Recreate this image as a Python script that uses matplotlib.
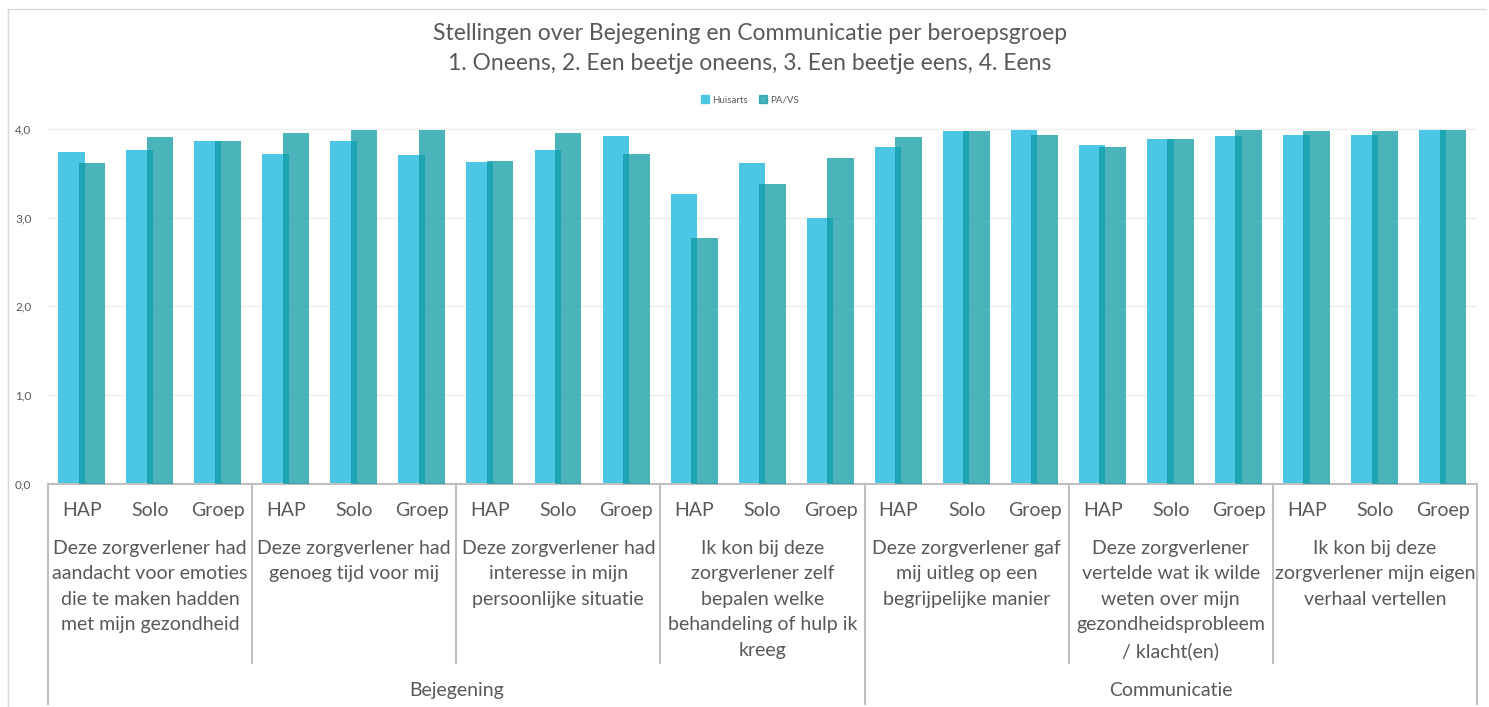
import numpy as np
import matplotlib.pyplot as plt
import matplotlib.transforms as mtransforms
from matplotlib.patches import Rectangle
from matplotlib.lines import Line2D

plt.rcParams['font.family'] = ['Lato', 'DejaVu Sans']

# data
sub_labels = ['HAP', 'Solo', 'Groep'] * 7
stellingen = [
    'Deze zorgverlener had\naandacht voor emoties\ndie te maken hadden\nmet mijn gezondheid',
    'Deze zorgverlener had\ngenoeg tijd voor mij',
    'Deze zorgverlener had\ninteresse in mijn\npersoonlijke situatie',
    'Ik kon bij deze\nzorgverlener zelf\nbepalen welke\nbehandeling of hulp ik\nkreeg',
    'Deze zorgverlener gaf\nmij uitleg op een\nbegrijpelijke manier',
    'Deze zorgverlener\nvertelde wat ik wilde\nweten over mijn\ngezondheidsprobleem\n/ klacht(en)',
    'Ik kon bij deze\nzorgverlener mijn eigen\nverhaal vertellen',
]
themas = ['Bejegening', 'Communicatie']
thema_size = [4, 3]  # number of stellingen per thema

huisarts = [3.74, 3.76, 3.86, 3.72, 3.86, 3.71, 3.63, 3.76, 3.92,
            3.27, 3.61, 3.00, 3.79, 3.97, 3.99, 3.82, 3.89, 3.92,
            3.93, 3.93, 3.99]
pavs = [3.61, 3.91, 3.86, 3.95, 3.99, 3.99, 3.64, 3.95, 3.72,
        2.77, 3.38, 3.67, 3.91, 3.97, 3.93, 3.80, 3.89, 3.99,
        3.97, 3.98, 3.99]

grey = '#595959'
c_hu = '#4CC6E5'
c_pa = '#0F9AA3'

fig = plt.figure(figsize=(14.89, 7.07), dpi=100)
ax = fig.add_axes([48 / 1489, 1 - 484 / 707, 1429 / 1489, 373 / 707])

x = np.arange(len(huisarts))
ax.bar(x - 0.155, huisarts, width=0.39, color=c_hu, zorder=2)
ax.bar(x + 0.145, pavs, width=0.39, color=c_pa, alpha=0.75, zorder=3)

ax.set_xlim(-0.5, len(x) - 0.5)
ax.set_ylim(0, 4.2)
ax.set_yticks([0, 1, 2, 3, 4])
ax.set_yticklabels(['0,0', '1,0', '2,0', '3,0', '4,0'], color=grey, fontsize=8.5)
ax.tick_params(axis='y', length=0, pad=12)
ax.set_xticks([])
for s in ['top', 'right', 'left']:
    ax.spines[s].set_visible(False)
ax.spines['bottom'].set_color('#BFBFBF')
ax.spines['bottom'].set_linewidth(1.5)
ax.grid(axis='y', color='#EEEEEE', linewidth=1, zorder=0)
ax.set_axisbelow(True)

trans = mtransforms.blended_transform_factory(ax.transData, ax.transAxes)

# category labels
for i, lab in enumerate(sub_labels):
    ax.text(i, -0.07, lab, transform=trans, ha='center', va='center',
            fontsize=14, color=grey)
for k, lab in enumerate(stellingen):
    ax.text(3 * k + 1, -0.15, lab, transform=trans, ha='center', va='top',
            fontsize=14, color=grey, linespacing=1.6)
start = 0
for t, n in zip(themas, thema_size):
    mid = start + n * 3 / 2 - 0.5
    ax.text(mid, -0.553, t, transform=trans, ha='center', va='center',
            fontsize=14, color=grey)
    start += n * 3

# separator lines
for b in [2.5, 5.5, 8.5, 14.5, 17.5]:
    ax.add_line(Line2D([b, b], [0, -0.48], transform=trans, color='#BFBFBF',
                       lw=1.5, clip_on=False))
for b in [-0.5, 11.5, 20.5]:
    ax.add_line(Line2D([b, b], [0, -0.59], transform=trans, color='#BFBFBF',
                       lw=1.5, clip_on=False))

# title
fig.text(750 / 1489, 1 - 34 / 707, 'Stellingen over Bejegening en Communicatie per beroepsgroep',
         ha='center', va='center', fontsize=16.5, color=grey)
fig.text(750 / 1489, 1 - 63 / 707, '1. Oneens, 2. Een beetje oneens, 3. Een beetje eens, 4. Eens',
         ha='center', va='center', fontsize=16.5, color=grey)

# legend
leg = fig.legend(handles=[Rectangle((0, 0), 1, 1, color=c_hu),
                          Rectangle((0, 0), 1, 1, color=c_pa, alpha=0.75)],
                 labels=['Huisarts', 'PA/VS'], loc='center',
                 bbox_to_anchor=(750 / 1489, 1 - 100 / 707), ncol=2, frameon=False,
                 fontsize=7, handlelength=0.8, handleheight=0.8, columnspacing=1.2,
                 handletextpad=0.3)
for t in leg.get_texts():
    t.set_color(grey)

# chart frame
fig.add_artist(Line2D([8 / 1489, 8 / 1489], [0, 1 - 9 / 707], transform=fig.transFigure,
                      color='#D9D9D9', lw=1))
fig.add_artist(Line2D([8 / 1489, 1485 / 1489], [1 - 9 / 707, 1 - 9 / 707],
                      transform=fig.transFigure, color='#D9D9D9', lw=1))

fig.savefig('out.png', dpi=100)
